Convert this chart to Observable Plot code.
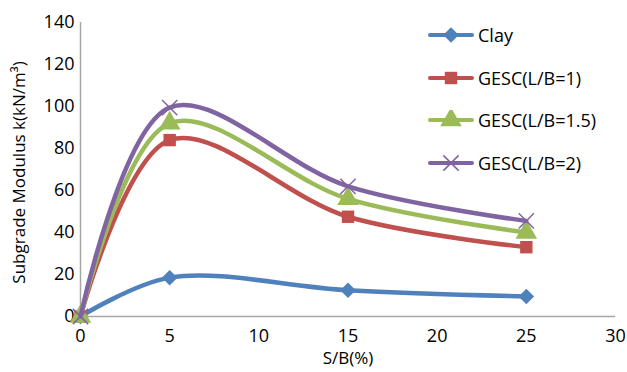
<!DOCTYPE html>
<html><head><meta charset="utf-8">
<script src="https://cdn.jsdelivr.net/npm/d3@7"></script>
<script src="https://cdn.jsdelivr.net/npm/@observablehq/plot@0.6"></script>
<style>
body{margin:0;background:#fff;}
#wrap{position:relative;width:627px;height:372px;font-family:"Open Sans",sans-serif;}
#legend{position:absolute;left:428px;top:14px;font-size:18px;color:#000;}
#legend .item{display:flex;align-items:center;height:42.5px;}
#legend svg{margin-right:4px;}
</style></head><body>
<div id="wrap"><div id="legend"></div></div>
<script>
const xValues = [0, 5, 15, 25];
const clay = [0, 18.5, 12.5, 9.5];
const gesc1 = [0, 84, 47.5, 33];
const gesc15 = [0, 92, 56, 40];
const gesc2 = [0, 99.5, 62, 45.5];
const seriesNames = ["Clay", "GESC(L/B=1)", "GESC(L/B=1.5)", "GESC(L/B=2)"];
const seriesValues = [clay, gesc1, gesc15, gesc2];
const colors = ["#4F81BD", "#C0504D", "#9BBB59", "#8064A2"];
const symbols = ["diamond2", "square", "triangle", "times"];
const xTicks = [0, 5, 10, 15, 20, 25, 30];
const yTicks = [0, 20, 40, 60, 80, 100, 120, 140];

const marks = [
  Plot.ruleX([0], {stroke: "#a6a6a6", strokeWidth: 1.5}),
  Plot.ruleY([0], {stroke: "#a6a6a6", strokeWidth: 1.5})
];
seriesNames.forEach((name, i) => {
  const data = xValues.map((x, j) => ({x, y: seriesValues[i][j], s: name}));
  marks.push(Plot.line(data, {x: "x", y: "y", stroke: colors[i], strokeWidth: 4.5, curve: "catmull-rom"}));
  if (symbols[i] === "times") {
    marks.push(Plot.dot(data, {x: "x", y: "y", symbol: "times", r: 7, stroke: colors[i], strokeWidth: 1.5}));
  } else {
    marks.push(Plot.dot(data, {x: "x", y: "y", symbol: symbols[i], r: symbols[i] === "triangle" ? 8 : 7, fill: colors[i], stroke: null}));
  }
});

const chart = Plot.plot({
  width: 627, height: 372,
  marginLeft: 80, marginRight: 12, marginTop: 22, marginBottom: 56,
  style: {fontFamily: "Open Sans, sans-serif", fontSize: "18px", color: "#000", background: "#fff"},
  x: {domain: [0, 30], ticks: xTicks, tickSize: 0, tickPadding: 13, label: null},
  y: {domain: [0, 140], ticks: yTicks, tickSize: 0, tickPadding: 6, label: null},
  marks: [
    ...marks,
    Plot.text(["S/B(%)"], {frameAnchor: "bottom", textAnchor: "middle", lineAnchor: "middle", dy: 42, fontSize: 17}),
    Plot.text(["Subgrade Modulus k(kN/m³)"], {frameAnchor: "left", textAnchor: "middle", lineAnchor: "middle", dx: -61, dy: 3, rotate: -90, fontSize: 17})
  ]
});
const wrap = document.getElementById("wrap");
wrap.insertBefore(chart, wrap.firstChild);

const legend = d3.select("#legend");
seriesNames.forEach((name, i) => {
  const item = legend.append("div").attr("class", "item");
  const svg = item.append("svg").attr("width", 46).attr("height", 20);
  svg.append("line").attr("x1", 2).attr("x2", 44).attr("y1", 10).attr("y2", 10)
    .attr("stroke", colors[i]).attr("stroke-width", 4).attr("stroke-linecap", "round");
  const symMap = {diamond2: d3.symbolDiamond2, square: d3.symbolSquare, triangle: d3.symbolTriangle, times: d3.symbolTimes};
  const r = symbols[i] === "triangle" ? 8 : 7;
  const p = svg.append("path").attr("transform", "translate(23,10)")
    .attr("d", d3.symbol(symMap[symbols[i]], Math.PI * r * r)());
  if (symbols[i] === "times") p.attr("fill", "none").attr("stroke", colors[i]).attr("stroke-width", 1.5);
  else p.attr("fill", colors[i]);
  item.append("span").text(name);
});
</script>
</body></html>
